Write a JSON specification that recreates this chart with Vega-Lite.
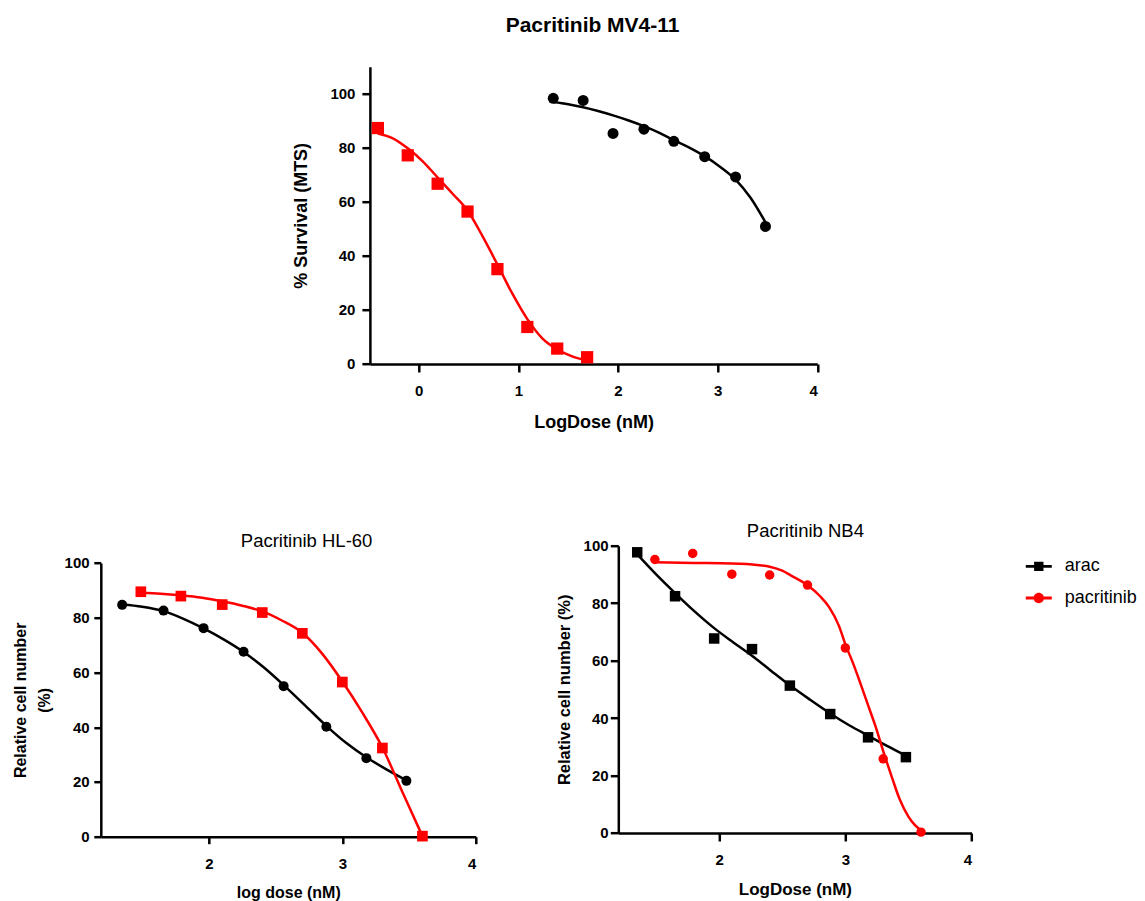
{
  "$schema": "https://vega.github.io/schema/vega-lite/v6.json",
  "background": "white",
  "padding": {"left": 11.8, "top": 14.7, "right": 2, "bottom": 2},
  "config": {
    "font": "Liberation Sans",
    "view": {"stroke": null},
    "axis": {"grid": false, "domainColor": "black", "domainWidth": 2.5, "tickColor": "black", "tickWidth": 2.5, "labelColor": "black", "titleColor": "black", "labelFontWeight": "bold", "titleFontWeight": "bold", "labelFontSize": 15, "labelFont": "Liberation Sans", "titleFont": "Liberation Sans"},
    "title": {"color": "black", "font": "Liberation Sans"},
    "legend": {"labelColor": "black", "labelFont": "Liberation Sans"}
  },
  "datasets": {
    "mv411_points": [
      {"drug": "pacritinib", "logdose": -0.41, "value": 87.3},
      {"drug": "pacritinib", "logdose": -0.11, "value": 77.2},
      {"drug": "pacritinib", "logdose": 0.19, "value": 66.7},
      {"drug": "pacritinib", "logdose": 0.49, "value": 56.4},
      {"drug": "pacritinib", "logdose": 0.79, "value": 35.1},
      {"drug": "pacritinib", "logdose": 1.09, "value": 13.7},
      {"drug": "pacritinib", "logdose": 1.39, "value": 5.7},
      {"drug": "pacritinib", "logdose": 1.69, "value": 2.5},
      {"drug": "arac", "logdose": 1.35, "value": 98.3},
      {"drug": "arac", "logdose": 1.65, "value": 97.5},
      {"drug": "arac", "logdose": 1.95, "value": 85.3},
      {"drug": "arac", "logdose": 2.26, "value": 86.9},
      {"drug": "arac", "logdose": 2.56, "value": 82.4},
      {"drug": "arac", "logdose": 2.87, "value": 76.7},
      {"drug": "arac", "logdose": 3.18, "value": 69.2},
      {"drug": "arac", "logdose": 3.48, "value": 50.9}
    ],
    "mv411_fit": [
      {"drug": "pacritinib", "logdose": -0.41, "value": 85.3},
      {"drug": "pacritinib", "logdose": -0.26, "value": 83.5},
      {"drug": "pacritinib", "logdose": -0.11, "value": 79.8},
      {"drug": "pacritinib", "logdose": 0.04, "value": 75},
      {"drug": "pacritinib", "logdose": 0.19, "value": 69},
      {"drug": "pacritinib", "logdose": 0.34, "value": 63},
      {"drug": "pacritinib", "logdose": 0.49, "value": 56.8},
      {"drug": "pacritinib", "logdose": 0.64, "value": 47.3},
      {"drug": "pacritinib", "logdose": 0.79, "value": 36.8},
      {"drug": "pacritinib", "logdose": 0.94, "value": 26},
      {"drug": "pacritinib", "logdose": 1.09, "value": 16.6},
      {"drug": "pacritinib", "logdose": 1.24, "value": 9.5},
      {"drug": "pacritinib", "logdose": 1.39, "value": 5.4},
      {"drug": "pacritinib", "logdose": 1.54, "value": 2.8},
      {"drug": "pacritinib", "logdose": 1.69, "value": 1.3},
      {"drug": "arac", "logdose": 1.35, "value": 96.9},
      {"drug": "arac", "logdose": 1.5, "value": 96.1},
      {"drug": "arac", "logdose": 1.65, "value": 95},
      {"drug": "arac", "logdose": 1.8, "value": 93.6},
      {"drug": "arac", "logdose": 1.95, "value": 92},
      {"drug": "arac", "logdose": 2.1, "value": 90.2},
      {"drug": "arac", "logdose": 2.26, "value": 88},
      {"drug": "arac", "logdose": 2.41, "value": 85.6},
      {"drug": "arac", "logdose": 2.56, "value": 82.8},
      {"drug": "arac", "logdose": 2.72, "value": 80},
      {"drug": "arac", "logdose": 2.87, "value": 76.9},
      {"drug": "arac", "logdose": 3.03, "value": 72.8},
      {"drug": "arac", "logdose": 3.18, "value": 68.2},
      {"drug": "arac", "logdose": 3.33, "value": 61.5},
      {"drug": "arac", "logdose": 3.48, "value": 52.4}
    ],
    "hl60_points": [
      {"drug": "arac", "logdose": 1.35, "value": 84.7},
      {"drug": "arac", "logdose": 1.66, "value": 82.6},
      {"drug": "arac", "logdose": 1.96, "value": 76.2},
      {"drug": "arac", "logdose": 2.26, "value": 67.6},
      {"drug": "arac", "logdose": 2.56, "value": 55.0},
      {"drug": "arac", "logdose": 2.88, "value": 40.2},
      {"drug": "arac", "logdose": 3.18, "value": 28.7},
      {"drug": "arac", "logdose": 3.48, "value": 20.4},
      {"drug": "pacritinib", "logdose": 1.49, "value": 89.5},
      {"drug": "pacritinib", "logdose": 1.79, "value": 87.9},
      {"drug": "pacritinib", "logdose": 2.1, "value": 84.8},
      {"drug": "pacritinib", "logdose": 2.4, "value": 81.9},
      {"drug": "pacritinib", "logdose": 2.7, "value": 74.3},
      {"drug": "pacritinib", "logdose": 3.0, "value": 56.5},
      {"drug": "pacritinib", "logdose": 3.3, "value": 32.4},
      {"drug": "pacritinib", "logdose": 3.6, "value": 0.2}
    ],
    "hl60_fit": [
      {"drug": "arac", "logdose": 1.35, "value": 84.8},
      {"drug": "arac", "logdose": 1.5, "value": 84},
      {"drug": "arac", "logdose": 1.66, "value": 82.4},
      {"drug": "arac", "logdose": 1.81, "value": 79.6},
      {"drug": "arac", "logdose": 1.96, "value": 76.1},
      {"drug": "arac", "logdose": 2.11, "value": 72.1},
      {"drug": "arac", "logdose": 2.26, "value": 67.5},
      {"drug": "arac", "logdose": 2.41, "value": 61.9},
      {"drug": "arac", "logdose": 2.56, "value": 55.4},
      {"drug": "arac", "logdose": 2.72, "value": 48},
      {"drug": "arac", "logdose": 2.88, "value": 40.5},
      {"drug": "arac", "logdose": 3.03, "value": 34.2},
      {"drug": "arac", "logdose": 3.18, "value": 29},
      {"drug": "arac", "logdose": 3.33, "value": 24.6},
      {"drug": "arac", "logdose": 3.48, "value": 20.6},
      {"drug": "pacritinib", "logdose": 1.49, "value": 89.1},
      {"drug": "pacritinib", "logdose": 1.64, "value": 88.8},
      {"drug": "pacritinib", "logdose": 1.79, "value": 88.2},
      {"drug": "pacritinib", "logdose": 1.95, "value": 87.3},
      {"drug": "pacritinib", "logdose": 2.1, "value": 86},
      {"drug": "pacritinib", "logdose": 2.25, "value": 84.4},
      {"drug": "pacritinib", "logdose": 2.4, "value": 82.3},
      {"drug": "pacritinib", "logdose": 2.55, "value": 78.9},
      {"drug": "pacritinib", "logdose": 2.7, "value": 74.5},
      {"drug": "pacritinib", "logdose": 2.85, "value": 66.8},
      {"drug": "pacritinib", "logdose": 3.0, "value": 56.7},
      {"drug": "pacritinib", "logdose": 3.15, "value": 45.3},
      {"drug": "pacritinib", "logdose": 3.3, "value": 32.6},
      {"drug": "pacritinib", "logdose": 3.45, "value": 16.3},
      {"drug": "pacritinib", "logdose": 3.6, "value": 0.2}
    ],
    "nb4_points": [
      {"drug": "arac", "logdose": 1.35, "value": 97.7},
      {"drug": "arac", "logdose": 1.65, "value": 82.4},
      {"drug": "arac", "logdose": 1.96, "value": 67.7},
      {"drug": "arac", "logdose": 2.26, "value": 64.0},
      {"drug": "arac", "logdose": 2.56, "value": 51.3},
      {"drug": "arac", "logdose": 2.88, "value": 41.4},
      {"drug": "arac", "logdose": 3.18, "value": 33.3},
      {"drug": "arac", "logdose": 3.48, "value": 26.4},
      {"drug": "pacritinib", "logdose": 1.49, "value": 95.2},
      {"drug": "pacritinib", "logdose": 1.79, "value": 97.3},
      {"drug": "pacritinib", "logdose": 2.1, "value": 90.1},
      {"drug": "pacritinib", "logdose": 2.4, "value": 89.8},
      {"drug": "pacritinib", "logdose": 2.7, "value": 86.3},
      {"drug": "pacritinib", "logdose": 3.0, "value": 64.4},
      {"drug": "pacritinib", "logdose": 3.3, "value": 25.8},
      {"drug": "pacritinib", "logdose": 3.6, "value": 0.3}
    ],
    "nb4_fit": [
      {"drug": "arac", "logdose": 1.35, "value": 97},
      {"drug": "arac", "logdose": 1.5, "value": 90},
      {"drug": "arac", "logdose": 1.65, "value": 83.5},
      {"drug": "arac", "logdose": 1.8, "value": 77.3},
      {"drug": "arac", "logdose": 1.96, "value": 71.3},
      {"drug": "arac", "logdose": 2.11, "value": 66.4},
      {"drug": "arac", "logdose": 2.26, "value": 61.7},
      {"drug": "arac", "logdose": 2.41, "value": 56.5},
      {"drug": "arac", "logdose": 2.56, "value": 51.4},
      {"drug": "arac", "logdose": 2.72, "value": 46.4},
      {"drug": "arac", "logdose": 2.88, "value": 41.6},
      {"drug": "arac", "logdose": 3.03, "value": 37.5},
      {"drug": "arac", "logdose": 3.18, "value": 33.9},
      {"drug": "arac", "logdose": 3.33, "value": 30.3},
      {"drug": "arac", "logdose": 3.48, "value": 26.9},
      {"drug": "pacritinib", "logdose": 1.49, "value": 94.2},
      {"drug": "pacritinib", "logdose": 1.8, "value": 94},
      {"drug": "pacritinib", "logdose": 2.1, "value": 93.8},
      {"drug": "pacritinib", "logdose": 2.3, "value": 93.3},
      {"drug": "pacritinib", "logdose": 2.4, "value": 92.7},
      {"drug": "pacritinib", "logdose": 2.5, "value": 91.3},
      {"drug": "pacritinib", "logdose": 2.57, "value": 89.6},
      {"drug": "pacritinib", "logdose": 2.7, "value": 86.2},
      {"drug": "pacritinib", "logdose": 2.8, "value": 82.4},
      {"drug": "pacritinib", "logdose": 2.87, "value": 78.7},
      {"drug": "pacritinib", "logdose": 2.95, "value": 72},
      {"drug": "pacritinib", "logdose": 3.0, "value": 65.7},
      {"drug": "pacritinib", "logdose": 3.06, "value": 59.2},
      {"drug": "pacritinib", "logdose": 3.12, "value": 52},
      {"drug": "pacritinib", "logdose": 3.18, "value": 44.5},
      {"drug": "pacritinib", "logdose": 3.24, "value": 37},
      {"drug": "pacritinib", "logdose": 3.3, "value": 28.5},
      {"drug": "pacritinib", "logdose": 3.37, "value": 19.3},
      {"drug": "pacritinib", "logdose": 3.43, "value": 11.8},
      {"drug": "pacritinib", "logdose": 3.5, "value": 5.7},
      {"drug": "pacritinib", "logdose": 3.55, "value": 2.8},
      {"drug": "pacritinib", "logdose": 3.61, "value": 0.6}
    ]
  },
  "columns": 1,
  "align": "none",
  "spacing": 90,
  "resolve": {"scale": {"color": "independent"}, "legend": {"color": "independent"}},
  "concat": [
    {
      "width": 716.5,
      "height": 297.3,
      "title": {"text": "Pacritinib MV4-11", "fontSize": 21, "fontWeight": "bold", "frame": "group", "anchor": "middle", "offset": 30.3, "dx": 133.5},
      "encoding": {
        "x": {"field": "logdose", "type": "quantitative", "scale": {"domain": [-0.49, 4], "range": [269.1, 716.5], "nice": false, "zero": false},
          "axis": {"title": "LogDose (nM)", "titleFontSize": 18, "values": [0, 1, 2, 3, 4], "tickSize": 8, "labelPadding": 11.6, "titlePadding": 14.5}},
        "y": {"field": "value", "type": "quantitative", "scale": {"domain": [0, 110], "nice": false},
          "axis": {"title": "% Survival (MTS)", "titleFontSize": 18, "values": [0, 20, 40, 60, 80, 100], "tickSize": 8, "labelPadding": 7, "titlePadding": 19.8, "offset": -269.1}}
      },
      "layer": [
        {"data": {"name": "mv411_fit"}, "transform": [{"filter": "datum.drug === 'arac'"}], "mark": {"type": "line", "color": "black", "strokeWidth": 2.5, "interpolate": "monotone"}},
        {"data": {"name": "mv411_fit"}, "transform": [{"filter": "datum.drug === 'pacritinib'"}], "mark": {"type": "line", "color": "#ff0000", "strokeWidth": 2.5, "interpolate": "monotone"}},
        {"data": {"name": "mv411_points"}, "transform": [{"filter": "datum.drug === 'arac'"}], "mark": {"type": "point", "shape": "circle", "filled": true, "color": "black", "opacity": 1, "size": 121}},
        {"data": {"name": "mv411_points"}, "transform": [{"filter": "datum.drug === 'pacritinib'"}], "mark": {"type": "point", "shape": "square", "filled": true, "color": "#ff0000", "opacity": 1, "size": 150}}
      ]
    },
    {
      "columns": 2,
      "align": "none",
      "spacing": 78.5,
      "resolve": {"scale": {"color": "independent"}, "legend": {"color": "independent"}},
      "concat": [
        {
          "width": 375,
          "height": 291,
          "title": {"text": "Pacritinib HL-60", "fontSize": 18.5, "fontWeight": "normal", "frame": "group", "anchor": "middle", "offset": -5.2, "dx": 18.3},
          "encoding": {
            "x": {"field": "logdose", "type": "quantitative", "scale": {"domain": [1.19, 4], "nice": false, "zero": false},
              "axis": {"title": "log dose (nM)", "titleFontSize": 16, "values": [2, 3, 4], "tickSize": 7, "labelPadding": 13, "titlePadding": 12.7}},
            "y": {"field": "value", "type": "quantitative", "scale": {"domain": [0, 100], "range": [291, 17.3], "nice": false},
              "axis": {"title": ["Relative cell number", "(%)"], "titleLineHeight": 23.5, "titleFontSize": 16, "values": [0, 20, 40, 60, 80, 100], "tickSize": 7, "labelPadding": 4.7, "titlePadding": 12}}
          },
          "layer": [
            {"data": {"name": "hl60_fit"}, "transform": [{"filter": "datum.drug === 'arac'"}], "mark": {"type": "line", "color": "black", "strokeWidth": 2.5, "interpolate": "monotone"}},
            {"data": {"name": "hl60_fit"}, "transform": [{"filter": "datum.drug === 'pacritinib'"}], "mark": {"type": "line", "color": "#ff0000", "strokeWidth": 2.5, "interpolate": "monotone"}},
            {"data": {"name": "hl60_points"}, "transform": [{"filter": "datum.drug === 'arac'"}], "mark": {"type": "point", "shape": "circle", "filled": true, "color": "black", "opacity": 1, "size": 100}},
            {"data": {"name": "hl60_points"}, "transform": [{"filter": "datum.drug === 'pacritinib'"}], "mark": {"type": "point", "shape": "square", "filled": true, "color": "#ff0000", "opacity": 1, "size": 114}}
          ]
        },
        {
          "width": 353.2,
          "height": 287.3,
          "title": {"text": "Pacritinib NB4", "fontSize": 18.5, "fontWeight": "normal", "frame": "group", "anchor": "middle", "offset": -1.5, "dx": 10.5},
          "encoding": {
            "x": {"field": "logdose", "type": "quantitative", "scale": {"domain": [1.2, 4], "nice": false, "zero": false},
              "axis": {"title": "LogDose (nM)", "titleFontSize": 17, "values": [2, 3, 4], "tickSize": 8, "labelPadding": 11.7, "titlePadding": 13.9}},
            "y": {"field": "value", "type": "quantitative", "scale": {"domain": [0, 100], "nice": false},
              "axis": {"title": "Relative cell number (%)", "titleFontSize": 16.5, "values": [0, 20, 40, 60, 80, 100], "tickSize": 8, "labelPadding": 2.2, "titlePadding": 10.3}}
          },
          "layer": [
            {"data": {"name": "nb4_fit"}, "mark": {"type": "line", "strokeWidth": 2.5, "interpolate": "monotone"},
              "encoding": {"color": {"field": "drug", "type": "nominal", "scale": {"domain": ["arac", "pacritinib"], "range": ["black", "#ff0000"]},
                "legend": {"title": null, "orient": "none", "legendX": 407.5, "legendY": 7.7, "padding": 0, "symbolSize": 676, "labelFontSize": 18, "labelOffset": 13, "rowPadding": 9.6,
                  "encode": {"symbols": {"update": {
                    "shape": {"signal": "datum.value === 'arac' ? 'M-1,-0.11H1V0.11H-1Z M-0.36,-0.36H0.36V0.36H-0.36Z' : 'M-1,-0.11H1V0.11H-1Z M-0.4,0A0.4,0.4 0 1,1 0.4,0A0.4,0.4 0 1,1 -0.4,0Z'"},
                    "fill": {"signal": "datum.value === 'arac' ? 'black' : '#ff0000'"},
                    "fillOpacity": {"value": 1},
                    "strokeWidth": {"value": 0},
                    "opacity": {"value": 1}
                  }}}}}}},
            {"data": {"name": "nb4_points"}, "transform": [{"filter": "datum.drug === 'arac'"}], "mark": {"type": "point", "shape": "square", "filled": true, "color": "black", "opacity": 1, "size": 110}},
            {"data": {"name": "nb4_points"}, "transform": [{"filter": "datum.drug === 'pacritinib'"}], "mark": {"type": "point", "shape": "circle", "filled": true, "color": "#ff0000", "opacity": 1, "size": 90}}
          ]
        }
      ]
    }
  ]
}
